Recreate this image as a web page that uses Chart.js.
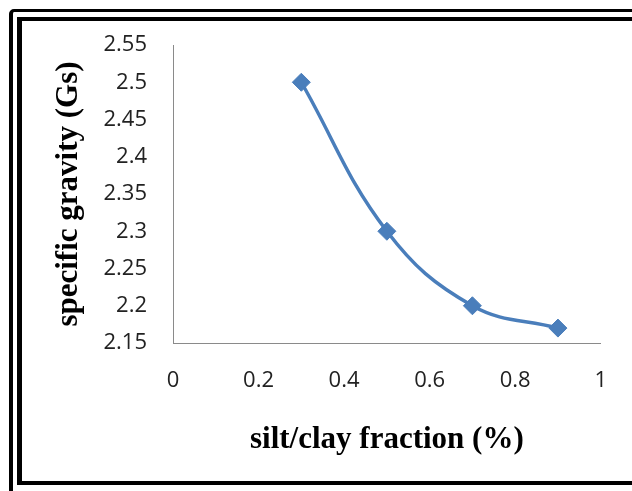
<!DOCTYPE html>
<html>
<head>
<meta charset="utf-8">
<script src="https://cdn.jsdelivr.net/npm/chart.js@4"></script>
<style>
  html, body { margin: 0; padding: 0; background: #fff; overflow: hidden; }
  #wrap { position: relative; width: 632px; height: 491px; }
  .outer { position: absolute; left: 9px; top: 9px; width: 700px; height: 600px;
           border-style: solid; border-color: #000; border-width: 3px 3px 3px 4px; border-radius: 5px; }
  .inner { position: absolute; left: 17px; top: 17px; width: 700px; height: 460px;
           border-style: solid; border-color: #000; border-width: 4px 4px 4px 5px; }
  canvas { position: absolute; left: 0; top: 0; }
</style>
</head>
<body>
<div id="wrap">
  <div class="outer"></div>
  <div class="inner"></div>
  <canvas id="gsChart" width="632" height="491"></canvas>
</div>
<script>
// datos
const fractions = [0.3, 0.5, 0.7, 0.9];
const gravity = [2.5, 2.3, 2.2, 2.17];
const xTicks = [0, 0.2, 0.4, 0.6, 0.8, 1];
const yTicks = [2.15, 2.2, 2.25, 2.3, 2.35, 2.4, 2.45, 2.5, 2.55];

const blue = '#4a7ebb';
const axisGrey = '#8a8a8a';
const tickFont = { family: '"Open Sans", sans-serif', size: 22 };
const titleFont = { family: '"Liberation Serif", "Times New Roman", serif', size: 31, weight: 'bold' };

const ctx = document.querySelector('#gsChart').getContext('2d');

new Chart(ctx, {
    type: 'scatter',
    data: {
        datasets: [{
            data: fractions.map((x, i) => ({ x: x, y: gravity[i] })),
            showLine: true,
            borderColor: blue,
            backgroundColor: blue,
            borderWidth: 3.5,
            tension: 0.4,
            pointStyle: 'rectRot',
            pointRadius: 9,
            pointBorderWidth: 1,
            pointBorderColor: blue,
            pointBackgroundColor: blue
        }]
    },
    options: {
        responsive: false,
        animation: false,
        layout: { padding: { top: 45, right: 30, left: 0, bottom: 0 } },
        plugins: { legend: { display: false }, tooltip: { enabled: false } },
        scales: {
            x: {
                type: 'linear',
                min: 0,
                max: 1,
                afterBuildTicks: s => { s.ticks = xTicks.map(v => ({ value: v })); },
                afterFit: s => { s.height = 148; },
                grid: { display: false, drawTicks: false },
                border: { display: true, color: axisGrey, width: 1 },
                ticks: { color: '#222', font: tickFont, padding: 25, maxRotation: 0,
                         callback: v => String(v) },
                title: { display: true, text: 'silt/clay fraction (%)', color: '#000',
                         font: titleFont, padding: { top: 0, bottom: 32 } }
            },
            y: {
                min: 2.15,
                max: 2.55,
                afterBuildTicks: s => { s.ticks = yTicks.map(v => ({ value: v })); },
                afterFit: s => { s.width = 173; },
                grid: { display: false, drawTicks: false },
                border: { display: true, color: axisGrey, width: 1 },
                ticks: { color: '#222', font: tickFont, padding: 26,
                         callback: v => String(v) },
                title: { display: true, text: 'specific gravity (Gs)', color: '#000',
                         font: titleFont, padding: { top: 50, bottom: 0 } }
            }
        }
    }
});
</script>
</body>
</html>
